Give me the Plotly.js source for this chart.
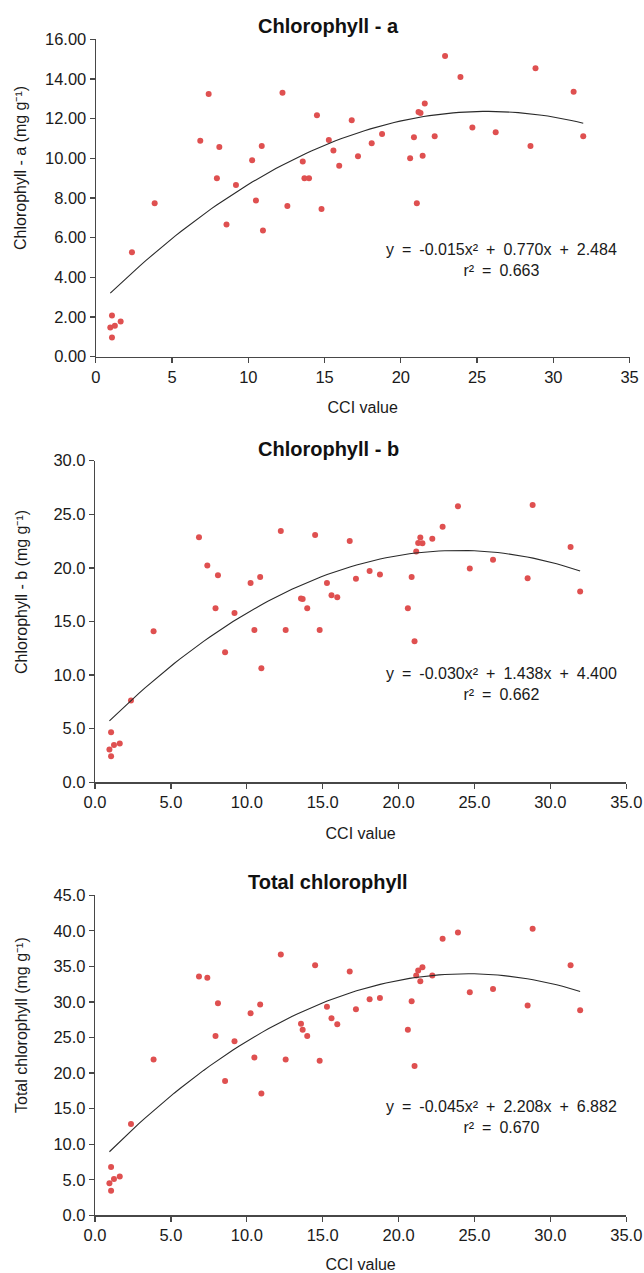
<!DOCTYPE html>
<html>
<head>
<meta charset="utf-8">
<script src="https://cdn.plot.ly/plotly-3.0.1.min.js"></script>
<style>
html,body{margin:0;padding:0;background:#ffffff;}
#chart{width:644px;height:1273px;}
</style>
</head>
<body>
<div id="chart"></div>
<script>
// ---- data ----
const cci = [0.95,1.06,1.06,1.25,1.63,2.37,3.86,6.85,7.40,7.94,8.10,8.57,9.19,10.25,10.50,10.88,10.96,12.24,12.56,13.57,13.68,13.98,14.50,14.80,15.28,15.58,15.96,16.78,17.19,18.09,18.77,20.61,20.86,21.05,21.16,21.29,21.43,21.57,22.22,22.90,23.91,24.69,26.22,28.50,28.83,31.33,31.96];
const chlA = [1.47,2.08,0.97,1.56,1.78,5.26,7.73,10.89,13.24,8.99,10.57,6.66,8.66,9.90,7.87,10.62,6.36,13.31,7.60,9.84,8.99,8.99,12.17,7.45,10.92,10.39,9.63,11.92,10.10,10.76,11.23,10.00,11.06,7.73,12.34,12.29,10.13,12.76,11.11,15.16,14.10,11.55,11.31,10.62,14.54,13.36,11.11];
const chlB = [3.06,4.66,2.44,3.49,3.61,7.62,14.10,22.86,20.22,16.24,19.32,12.13,15.80,18.60,14.20,19.16,10.65,23.45,14.20,17.14,17.10,16.24,23.07,14.20,18.60,17.45,17.27,22.52,18.98,19.72,19.38,16.24,19.16,13.15,21.52,22.33,22.83,22.30,22.73,23.85,25.75,19.94,20.75,19.04,25.87,21.96,17.80];
const chlTotal = [4.50,6.80,3.44,5.10,5.44,12.85,21.90,33.58,33.39,25.20,29.81,18.90,24.48,28.40,22.19,29.63,17.12,36.68,21.90,26.95,26.10,25.20,35.17,21.72,29.34,27.70,26.85,34.28,28.97,30.38,30.57,26.10,30.10,21.01,33.72,34.42,32.92,34.89,33.72,38.89,39.78,31.37,31.84,29.49,40.30,35.17,28.83];

const panelTitles = ["Chlorophyll - a", "Chlorophyll - b", "Total chlorophyll"];
const yTitles = ["Chlorophyll - a (mg g\u207B\u00B9)", "Chlorophyll - b (mg g\u207B\u00B9)", "Total chlorophyll (mg g\u207B\u00B9)"];
const xTitle = "CCI value";
// quadratic fit coefficients [x^2, x, const] as printed on the chart
const fitA = [-0.015, 0.770, 2.484];
const fitB = [-0.030, 1.438, 4.400];
const fitTotal = [-0.045, 2.208, 6.882];
const fitText = [
  ["-0.015", "0.770", "2.484", "0.663"],
  ["-0.030", "1.438", "4.400", "0.662"],
  ["-0.045", "2.208", "6.882", "0.670"]
];
const yMax = [16, 30, 45];
const yStep = [2, 5, 5];
const yFormat = [".2f", ".1f", ".1f"];
const xFormat = ["d", ".1f", ".1f"];

// ---- layout geometry (pixels) ----
const W = 644, H = 1273;
const px = v => v / W;
const py = v => 1 - v / H;
const panels = [
  {x0: 95.8, x1: 629.6, yTop: 39.3, yBot: 356.7, title: 26, ytitle: 168, eq: 259.5},
  {x0: 95.0, x1: 626.3, yTop: 460.7, yBot: 782.3, title: 449, ytitle: 592, eq: 683.5},
  {x0: 95.0, x1: 626.3, yTop: 895.3, yBot: 1215.3, title: 882, ytitle: 1025, eq: 1116.7}
];

const series = [chlA, chlB, chlTotal];
const fits = [fitA, fitB, fitTotal];
const FONT = "Liberation Sans, Arial, sans-serif";
const axisCol = "#474747";
const textCol = "#1a1a1a";
const dotCol = "#df5050";

const xmin = Math.min(...cci), xmax = Math.max(...cci);
const traces = [];
const layout = {
  width: W, height: H,
  margin: {l: 0, r: 0, t: 0, b: 0},
  paper_bgcolor: "#ffffff", plot_bgcolor: "#ffffff",
  showlegend: false,
  font: {family: FONT, size: 16, color: textCol},
  annotations: []
};

for (let i = 0; i < 3; i++) {
  const s = i === 0 ? "" : String(i + 1);
  const p = panels[i];
  traces.push({
    type: "scatter", mode: "markers", x: cci, y: series[i],
    xaxis: "x" + s, yaxis: "y" + s,
    marker: {color: dotCol, size: 6, line: {width: 0}},
    hoverinfo: "x+y"
  });
  const c = fits[i];
  const fx = [], fy = [];
  const n = 80;
  for (let k = 0; k <= n; k++) {
    const xv = xmin + (xmax - xmin) * k / n;
    fx.push(xv);
    fy.push(c[0] * xv * xv + c[1] * xv + c[2]);
  }
  traces.push({
    type: "scatter", mode: "lines", x: fx, y: fy,
    xaxis: "x" + s, yaxis: "y" + s,
    line: {color: "#2a2a2a", width: 1.1}, hoverinfo: "skip"
  });

  layout["xaxis" + s] = {
    domain: [px(p.x0), px(p.x1)], anchor: "y" + s,
    range: [0, 35], dtick: 5, tick0: 0, tickformat: xFormat[i],
    showline: true, linecolor: axisCol, linewidth: 1.2,
    ticks: "outside", ticklen: 5, tickcolor: axisCol, tickwidth: 1.2,
    showgrid: false, zeroline: false,
    tickfont: {family: FONT, size: 16.5, color: textCol}, fixedrange: true,
    title: {text: xTitle, standoff: 17, font: {family: FONT, size: 16, color: textCol}}
  };
  layout["yaxis" + s] = {
    domain: [py(p.yBot), py(p.yTop)], anchor: "x" + s,
    range: [0, yMax[i]], dtick: yStep[i], tick0: 0, tickformat: yFormat[i],
    showline: true, linecolor: axisCol, linewidth: 1.2,
    ticks: "outside", ticklen: 5, tickcolor: axisCol, tickwidth: 1.2,
    showgrid: false, zeroline: false,
    tickfont: {family: FONT, size: 16.5, color: textCol}, fixedrange: true
  };

  layout.annotations.push({
    xref: "paper", yref: "paper", x: px(328), y: py(p.title),
    xanchor: "center", yanchor: "middle", showarrow: false,
    text: "<b>" + panelTitles[i] + "</b>",
    font: {family: FONT, size: 20, color: "#111"}
  });
  layout.annotations.push({
    xref: "paper", yref: "paper", x: px(21), y: py(p.ytitle),
    xanchor: "center", yanchor: "middle", showarrow: false, textangle: -90,
    text: yTitles[i], font: {family: FONT, size: 16, color: textCol}
  });
  const t = fitText[i];
  const sp = "\u2002";
  layout.annotations.push({
    xref: "paper", yref: "paper", x: px(501), y: py(p.eq),
    xanchor: "center", yanchor: "middle", showarrow: false, align: "center",
    text: "y" + sp + "=" + sp + t[0] + "x\u00B2" + sp + "+" + sp + t[1] + "x" + sp + "+" + sp + t[2] +
          "<br>r\u00B2" + sp + "=" + sp + t[3],
    font: {family: FONT, size: 16, color: textCol}
  });
}

Plotly.newPlot("chart", traces, layout, {displayModeBar: false, staticPlot: true});
</script>
</body>
</html>
